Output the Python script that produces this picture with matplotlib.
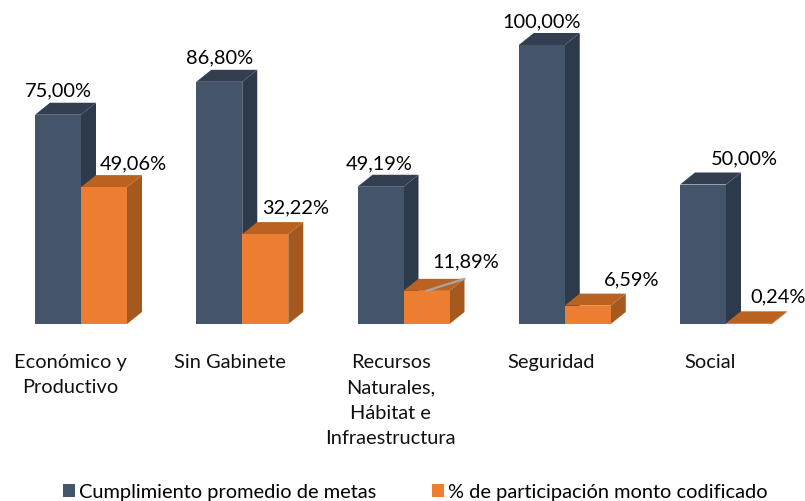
import matplotlib
matplotlib.use('Agg')
import matplotlib.pyplot as plt
from matplotlib.patches import Polygon, Patch

plt.rcParams['font.family'] = ['Lato', 'DejaVu Sans']

# data
categories = ['Económico y\nProductivo', 'Sin Gabinete',
              'Recursos\nNaturales,\nHábitat e\nInfraestructura',
              'Seguridad', 'Social']
cumplimiento = [75.00, 86.80, 49.19, 100.00, 50.00]
participacion = [49.06, 32.22, 11.89, 6.59, 0.24]
series_names = ['Cumplimiento promedio de metas', '% de participación monto codificado']

# pixels per unit, figure is 805x502
px_x = 161.25
px_y = 2.79
bar_w = 46 / px_x
depth_x = 15 / px_x
depth_y = 12 / px_y

blue = ('#44546A', '#2C3A4C', '#333F50')
orange = ('#ED7D31', '#A5591F', '#BA6220')

# label offsets from top of front face centre, in pixels
blue_off = [(0, 25), (0, 25), (-1, 24), (0, 24), (41, 27)]
orange_off = [(29, 24), (30, 27), (39, 30), (44, 27), (29, 27)]
cat_off = [-11, -12, -13, -14, -16]

FS = 14.4


def draw_bar(ax, left, value, colors):
    right = left + bar_w
    # side, top, front
    ax.add_patch(Polygon([(right, 0), (right + depth_x, depth_y),
                          (right + depth_x, value + depth_y), (right, value)],
                         facecolor=colors[1], edgecolor='none', zorder=2))
    ax.add_patch(Polygon([(left, value), (left + depth_x, value + depth_y),
                          (right + depth_x, value + depth_y), (right, value)],
                         facecolor=colors[2], edgecolor='none', zorder=2))
    ax.add_patch(Polygon([(left, 0), (right, 0), (right, value), (left, value)],
                         facecolor=colors[0], edgecolor='none', zorder=3))


def put_label(ax, x, value, off):
    ax.annotate(f'{value:.2f}%'.replace('.', ','), (x, value),
                xytext=(off[0] * 0.72, off[1] * 0.72), textcoords='offset points',
                ha='center', va='center', fontsize=FS, color='black', zorder=6)


fig = plt.figure(figsize=(8.05, 5.02), dpi=100)
ax = fig.add_axes([0, 0, 1, 1])
ax.set_xlim(-81 / px_x, (805 - 81) / px_x)
ax.set_ylim(-(502 - 325) / px_y, 325 / px_y)
ax.axis('off')

for i in range(len(categories)):
    draw_bar(ax, i - bar_w, cumplimiento[i], blue)
    draw_bar(ax, i, participacion[i], orange)
    put_label(ax, i - bar_w / 2, cumplimiento[i], blue_off[i])
    put_label(ax, i + bar_w / 2, participacion[i], orange_off[i])
    ax.annotate(categories[i], (i, 0), xytext=(cat_off[i] * 0.72, -29 * 0.72),
                textcoords='offset points', ha='center', va='top',
                fontsize=FS, linespacing=1.6, color='#111111')

# leader line on the small orange bar
ax.annotate('', xy=(2 + bar_w / 2, participacion[2]),
            xytext=(2 + bar_w + depth_x, participacion[2] + depth_y),
            arrowprops=dict(arrowstyle='-', color='#A6A6A6', lw=1.6,
                            shrinkA=0, shrinkB=0), zorder=5)

handles = [Patch(facecolor=blue[0], label=series_names[0]),
           Patch(facecolor=orange[0], label=series_names[1])]
ax.legend(handles=handles, ncol=2, frameon=False, fontsize=FS,
          loc='center', bbox_to_anchor=(415 / 805, 1 - 493 / 502),
          handlelength=0.6, handleheight=0.6, handletextpad=0.2,
          columnspacing=2.8, borderpad=0)

fig.savefig('out.png', dpi=100)
